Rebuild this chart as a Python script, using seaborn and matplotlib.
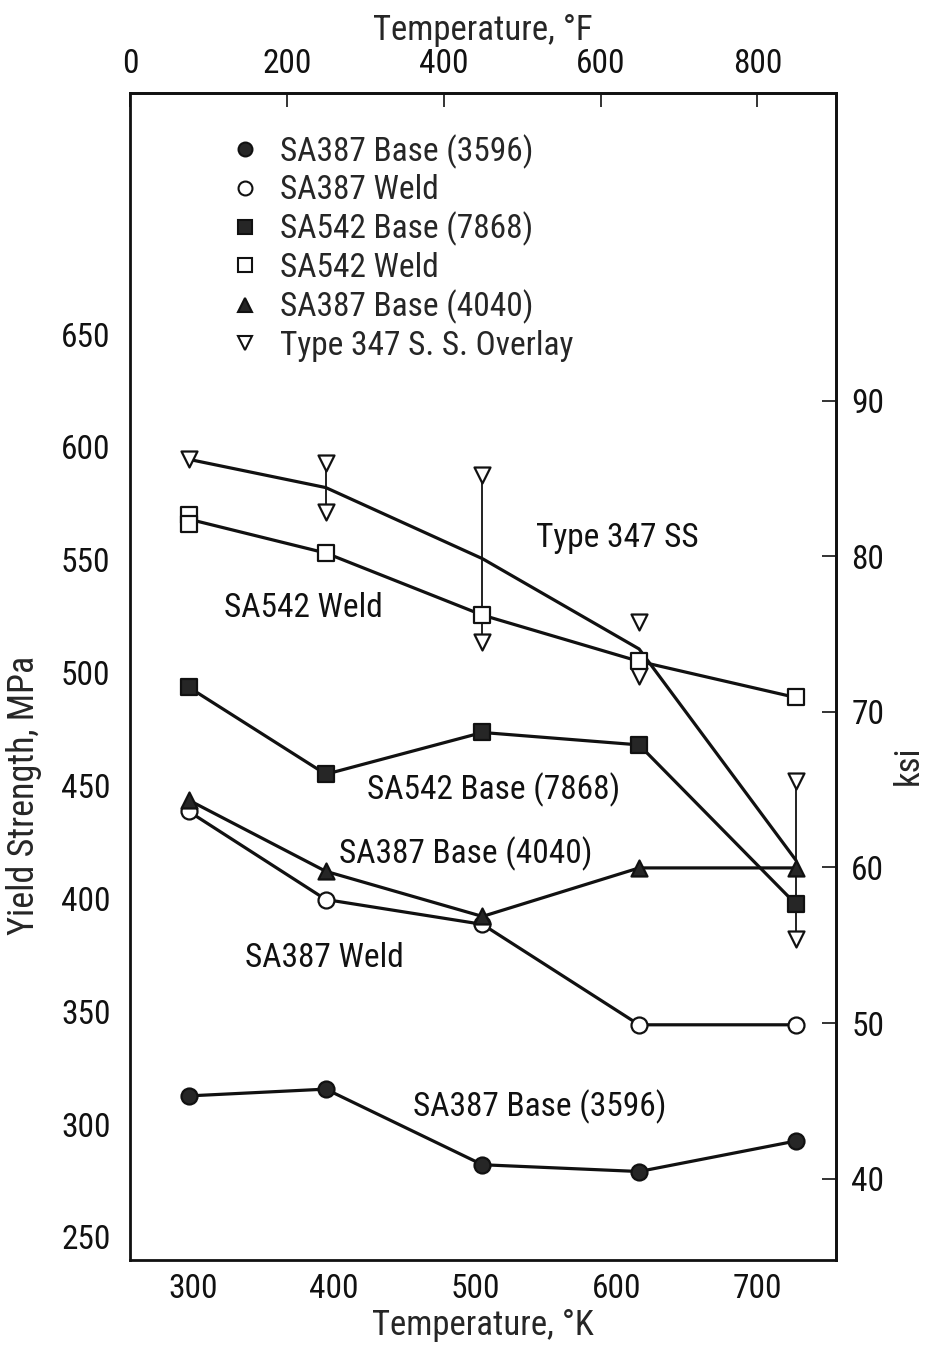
import numpy as np
import pandas as pd
import matplotlib
matplotlib.use("Agg")
import matplotlib.pyplot as plt
import seaborn as sns
from matplotlib.lines import Line2D
from matplotlib import font_manager as fm

# ---------------- data ----------------
temps_K = [297, 394, 505, 616, 727]
sa387_base_3596 = [312.5, 315.5, 282.0, 279.0, 292.5]
sa387_weld = [438.5, 399.5, 388.5, 344.0, 344.0]
sa542_base_7868 = [493.5, 455.0, 473.5, 468.0, 397.5]
sa542_weld_temps = [297, 297, 394, 505, 616, 727]
sa542_weld = [570.0, 566.0, 553.0, 525.5, 505.0, 489.0]
sa387_base_4040 = [443.5, 412.0, 392.0, 413.5, 413.5]
ss347_temps = [297, 394, 394, 505, 505, 616, 616, 727, 727]
ss347 = [594.5, 593.0, 571.0, 587.5, 513.5, 522.5, 498.5, 452.0, 382.0]
ss347_range_temps = [394, 505, 727]

legend_labels = ["SA387 Base (3596)", "SA387 Weld", "SA542 Base (7868)",
                 "SA542 Weld", "SA387 Base (4040)", "Type 347 S. S. Overlay"]
mpa_ticks = [250, 300, 350, 400, 450, 500, 550, 600, 650]
ksi_ticks = [40, 50, 60, 70, 80, 90]
k_ticks = [300, 400, 500, 600, 700]
f_ticks = [0, 200, 400, 600, 800]

# ---------------- style ----------------
sns.set_theme(style="white")


def pick_condensed():
    """Find an installed narrow sans font (the reference uses a condensed face)."""
    entries = [f for f in fm.fontManager.ttflist
               if f.style == "normal" and str(f.weight) in ("400", "normal", "regular", "book")]
    prefs = [
        lambda f: f.name == "Liberation Sans Narrow",
        lambda f: f.name == "Roboto Condensed",
        lambda f: f.name == "DejaVu Sans" and "condensed" in str(f.stretch),
        lambda f: f.name.startswith("Open Sans") and ("condensed" in str(f.stretch) or "Condensed" in f.name),
        lambda f: f.name.startswith("Noto Sans") and "CJK" not in f.name and ("condensed" in str(f.stretch) or "Condensed" in f.name),
        lambda f: f.name.startswith("Roboto") and ("condensed" in str(f.stretch) or "Condensed" in f.name),
        lambda f: ("Narrow" in f.name or "Condensed" in f.name or "condensed" in str(f.stretch)),
    ]
    for p in prefs:
        for f in entries:
            try:
                if p(f):
                    return f
            except Exception:
                pass
    return None


cf = pick_condensed()
if cf is not None:
    plt.rcParams['font.family'] = [cf.name, 'DejaVu Sans']
    plt.rcParams['font.stretch'] = cf.stretch
    FS = 24
else:
    plt.rcParams['font.family'] = ['DejaVu Sans']
    FS = 20
INK = "#111111"
FILL = "#262626"

W, H = 926, 1346
fig = plt.figure(figsize=(W / 100, H / 100), dpi=100)
fig.patch.set_facecolor("white")
L, R, T, B = 130, 836, 93, 1260
ax = fig.add_axes([L / W, 1 - B / H, (R - L) / W, (B - T) / H])
ax.set_facecolor("white")

line_kw = dict(color=INK, linewidth=2.3, errorbar=None, ax=ax, zorder=2, legend=False)
sns.lineplot(x=temps_K, y=sa387_base_3596, **line_kw)
sns.lineplot(x=temps_K, y=sa387_weld, **line_kw)
sns.lineplot(x=temps_K, y=sa542_base_7868, **line_kw)
sns.lineplot(x=sa542_weld_temps, y=sa542_weld, **line_kw)
sns.lineplot(x=temps_K, y=sa387_base_4040, **line_kw)
sns.lineplot(x=ss347_temps, y=ss347, **line_kw)

# range bars for the overlay measurements
df347 = pd.DataFrame({"T": ss347_temps, "Y": ss347})
rng = df347.groupby("T")["Y"].agg(["min", "max"]).loc[ss347_range_temps]
ax.vlines(rng.index, rng["min"], rng["max"], color=INK, linewidth=1.3, zorder=1.5)

MS = 11.5
sc_kw = dict(ax=ax, s=MS ** 2, edgecolor=INK, linewidth=1.6, zorder=3, legend=False)
sns.scatterplot(x=ss347_temps, y=ss347, marker="v", color="white", **sc_kw)
sns.scatterplot(x=temps_K, y=sa387_base_3596, marker="o", color=FILL, **sc_kw)
sns.scatterplot(x=temps_K, y=sa387_weld, marker="o", color="white", **sc_kw)
sns.scatterplot(x=temps_K, y=sa542_base_7868, marker="s", color=FILL, **sc_kw)
sns.scatterplot(x=sa542_weld_temps, y=sa542_weld, marker="s", color="white", **sc_kw)
sns.scatterplot(x=temps_K, y=sa387_base_4040, marker="^", color=FILL, **sc_kw)

# axes limits
ax.set_xlim(255.3, 755.5)
ax.set_ylim(239.8, 756.8)
ax.set_xticks(k_ticks)
ax.set_yticks(mpa_ticks)
ax.set_xlabel("Temperature, °K", fontsize=FS + 1, labelpad=3)
ax.set_ylabel("Yield Strength, MPa", fontsize=FS + 2)
ax.yaxis.set_label_coords((42 - L) / (R - L), (B - 795) / (B - T), transform=ax.transAxes)
ax.tick_params(axis="both", direction="in", length=10, width=1.2, colors=INK,
               labelsize=FS, labelcolor=INK)
ax.tick_params(axis="x", pad=9)
ax.tick_params(axis="y", pad=14)
for sp in ax.spines.values():
    sp.set_linewidth(2.0)
    sp.set_color(INK)


# secondary axes
def k2f(k):
    return (np.asarray(k) - 273.15) * 1.8 + 32


def f2k(f):
    return (np.asarray(f) - 32) / 1.8 + 273.15


def mpa2ksi(m):
    return np.asarray(m) / 6.89476


def ksi2mpa(k):
    return np.asarray(k) * 6.89476


secx = ax.secondary_xaxis("top", functions=(k2f, f2k))
secx.set_xticks(f_ticks)
secx.tick_params(direction="in", length=10, width=1.2, labelsize=FS, pad=9, colors=INK)
secx.set_xlabel("Temperature, °F", fontsize=FS + 1, labelpad=6)
secx.spines["top"].set_linewidth(2.0)

secy = ax.secondary_yaxis("right", functions=(mpa2ksi, ksi2mpa))
secy.set_yticks(ksi_ticks)
secy.tick_params(direction="in", length=10, width=1.2, labelsize=FS, pad=11, colors=INK)
secy.set_ylabel("ksi", fontsize=FS + 1)
secy.yaxis.set_label_coords((892 - L) / (R - L), (B - 765) / (B - T), transform=ax.transAxes)
secy.spines["right"].set_linewidth(2.0)

# curve annotations
ann = dict(fontsize=FS, color=INK, ha="left", va="center")
ax.text(543, 559.6, "Type 347 SS", **ann)
ax.text(321.7, 528.5, "SA542 Weld", **ann)
ax.text(423.5, 448.0, "SA542 Base (7868)", **ann)
ax.text(403.5, 420.0, "SA387 Base (4040)", **ann)
ax.text(336.7, 373.6, "SA387 Weld", **ann)
ax.text(456.0, 307.7, "SA387 Base (3596)", **ann)

# legend
specs = [("o", FILL), ("o", "white"), ("s", FILL), ("s", "white"), ("^", FILL), ("v", "white")]
handles = [Line2D([], [], linestyle="none", marker=m, markersize=MS - 1.5, markerfacecolor=fc,
                  markeredgecolor=INK, markeredgewidth=1.5) for m, fc in specs]
leg = ax.legend(handles, legend_labels, loc="upper left",
                bbox_to_anchor=((228 - L) / (R - L), (B - 134) / (B - T)),
                frameon=False, fontsize=FS, handlelength=1.0, handletextpad=0.55,
                labelspacing=0.17, borderpad=0, borderaxespad=0)

fig.savefig("out.png", dpi=100, facecolor="white")
